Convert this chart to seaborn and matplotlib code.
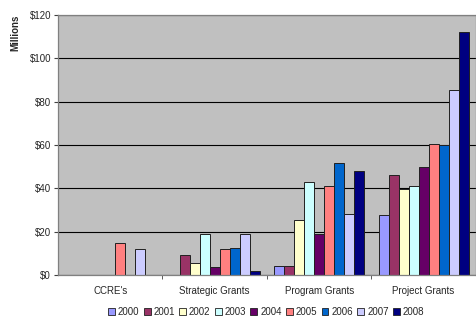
import matplotlib
matplotlib.use('Agg')
import matplotlib.pyplot as plt
import numpy as np
import pandas as pd
import seaborn as sns
from matplotlib.patches import Patch
from matplotlib.ticker import FuncFormatter, FixedLocator

categories = ["CCRE's", 'Strategic Grants', 'Program Grants', 'Project Grants']
years = ['2000', '2001', '2002', '2003', '2004', '2005', '2006', '2007', '2008']

# values in millions, one list per category (years 2000..2008)
ccre = [0, 0, 0, 0, 0, 14.6, 0, 12.0, 0]
strategic = [0, 9.4, 5.4, 19.0, 3.7, 12.0, 12.5, 19.0, 2.0]
program = [4.0, 4.0, 25.4, 43.0, 19.0, 41.2, 51.8, 28.2, 48.1]
project = [27.8, 46.3, 39.7, 41.2, 50.0, 60.5, 60.0, 85.2, 111.9]

colors = ['#9999FF', '#993366', '#FFFFCC', '#CCFFFF', '#660066',
          '#FF8080', '#0066CC', '#CCCCFF', '#000080']

rows = []
for cat, vals in zip(categories, [ccre, strategic, program, project]):
    for yr, v in zip(years, vals):
        rows.append({'category': cat, 'year': yr, 'value': v})
df = pd.DataFrame(rows)

sns.set_style('white')
plt.rcParams['font.family'] = ['Liberation Sans', 'DejaVu Sans']

fig = plt.figure(figsize=(4.77, 3.24), dpi=100)
ax = fig.add_axes([0.1216, 0.151, 0.876, 0.803])
ax.set_facecolor('#C0C0C0')

sns.barplot(data=df, x='category', y='value', hue='year', order=categories,
            hue_order=years, palette=colors, width=0.86, gap=0,
            edgecolor='#202020', linewidth=0.7, saturation=1, ax=ax,
            legend=False)

ax.set_ylim(0, 120)
ax.set_xlim(-0.5, 3.5)
ax.set_yticks(np.arange(0, 121, 20))
ax.yaxis.set_major_formatter(FuncFormatter(lambda v, p: f'${v:.0f}'))
ax.grid(axis='y', color='black', linewidth=0.8)
ax.set_axisbelow(True)

ax.set_xlabel('')
ax.set_ylabel('Millions', fontsize=7, fontweight='bold')
ax.yaxis.set_label_coords(-0.09, 0.93)
ax.tick_params(axis='y', labelsize=7, length=3, color='#404040', pad=2, left=True)
ax.tick_params(axis='x', labelsize=7, length=0, pad=8)
ax.xaxis.set_minor_locator(FixedLocator([0.5, 1.5, 2.5]))
ax.tick_params(axis='x', which='minor', length=3, color='#404040', bottom=True)

for side in ['top', 'right', 'left', 'bottom']:
    ax.spines[side].set_color('#808080')
    ax.spines[side].set_linewidth(0.9)

handles = [Patch(facecolor=c, edgecolor='#202020', linewidth=0.6) for c in colors]
fig.legend(handles, years, loc='lower center', bbox_to_anchor=(0.558, -0.005),
           ncol=9, frameon=False, fontsize=7, handlelength=0.7,
           handleheight=0.7, handletextpad=0.3, columnspacing=0.45)

fig.savefig('out.png', dpi=100)
